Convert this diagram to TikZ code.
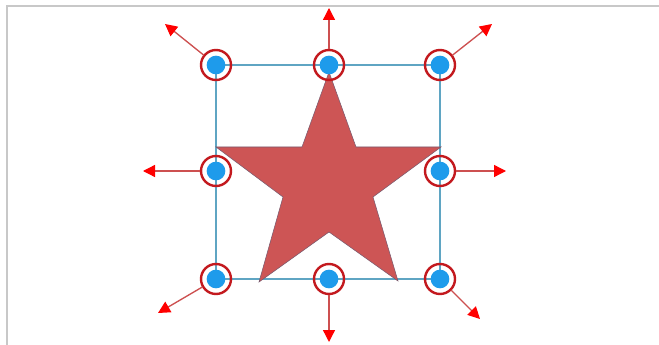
\documentclass[tikz,border=0pt]{standalone}
\usetikzlibrary{arrows.meta}
\definecolor{starfill}{RGB}{205,85,85}
\definecolor{staredge}{RGB}{120,90,110}
\definecolor{boxblue}{RGB}{95,165,195}
\definecolor{dotblue}{RGB}{30,155,235}
\definecolor{ringred}{RGB}{195,25,30}
\definecolor{arrline}{RGB}{205,80,80}
\definecolor{frame}{RGB}{200,200,200}
\tikzset{
  ring/.style={circle, draw=ringred, line width=1.8pt, minimum size=22.5pt, inner sep=0pt, outer sep=0.5pt},
  handlearrow/.style={draw=arrline, line width=1pt, -{Triangle[length=9pt, width=9pt, color=red]}},
}
\begin{document}
\begin{tikzpicture}[x=0.75pt, y=-0.75pt]
\useasboundingbox (0,0) rectangle (659,345);
\fill[white] (0,0) rectangle (659,345);
% frame
\draw[frame, line width=1.2pt] (7,345) -- (7,6) -- (659,6);
% handles positions
\coordinate (p1) at (216,65);
\coordinate (p2) at (329,65);
\coordinate (p3) at (440,65);
\coordinate (p4) at (216,171);
\coordinate (p5) at (440,171);
\coordinate (p6) at (216,279);
\coordinate (p7) at (329,279);
\coordinate (p8) at (440,279);
% bounding box
\draw[boxblue, line width=0.9pt] (p1) rectangle (p8);
% star
\fill[starfill, draw=staredge, line width=0.4pt]
  (329,72) -- (356,147) -- (441,147) -- (373,197) -- (398,281) -- (329,232)
  -- (259,282) -- (283,197) -- (216,147) -- (302,147) -- cycle;
% handles
\foreach \i in {1,...,8}{
  \fill[dotblue] (p\i) circle (7pt);
  \node[ring] (h\i) at (p\i) {};
}
% arrow tips
\coordinate (t1) at (165,24);
\coordinate (t2) at (329,8);
\coordinate (t3) at (492,24);
\coordinate (t4) at (143,171);
\coordinate (t5) at (506,171);
\coordinate (t6) at (158,313);
\coordinate (t7) at (329,342);
\coordinate (t8) at (480,319);
\foreach \i in {1,...,8}{
  \draw[handlearrow] (h\i) -- (t\i);
}
\end{tikzpicture}
\end{document}
